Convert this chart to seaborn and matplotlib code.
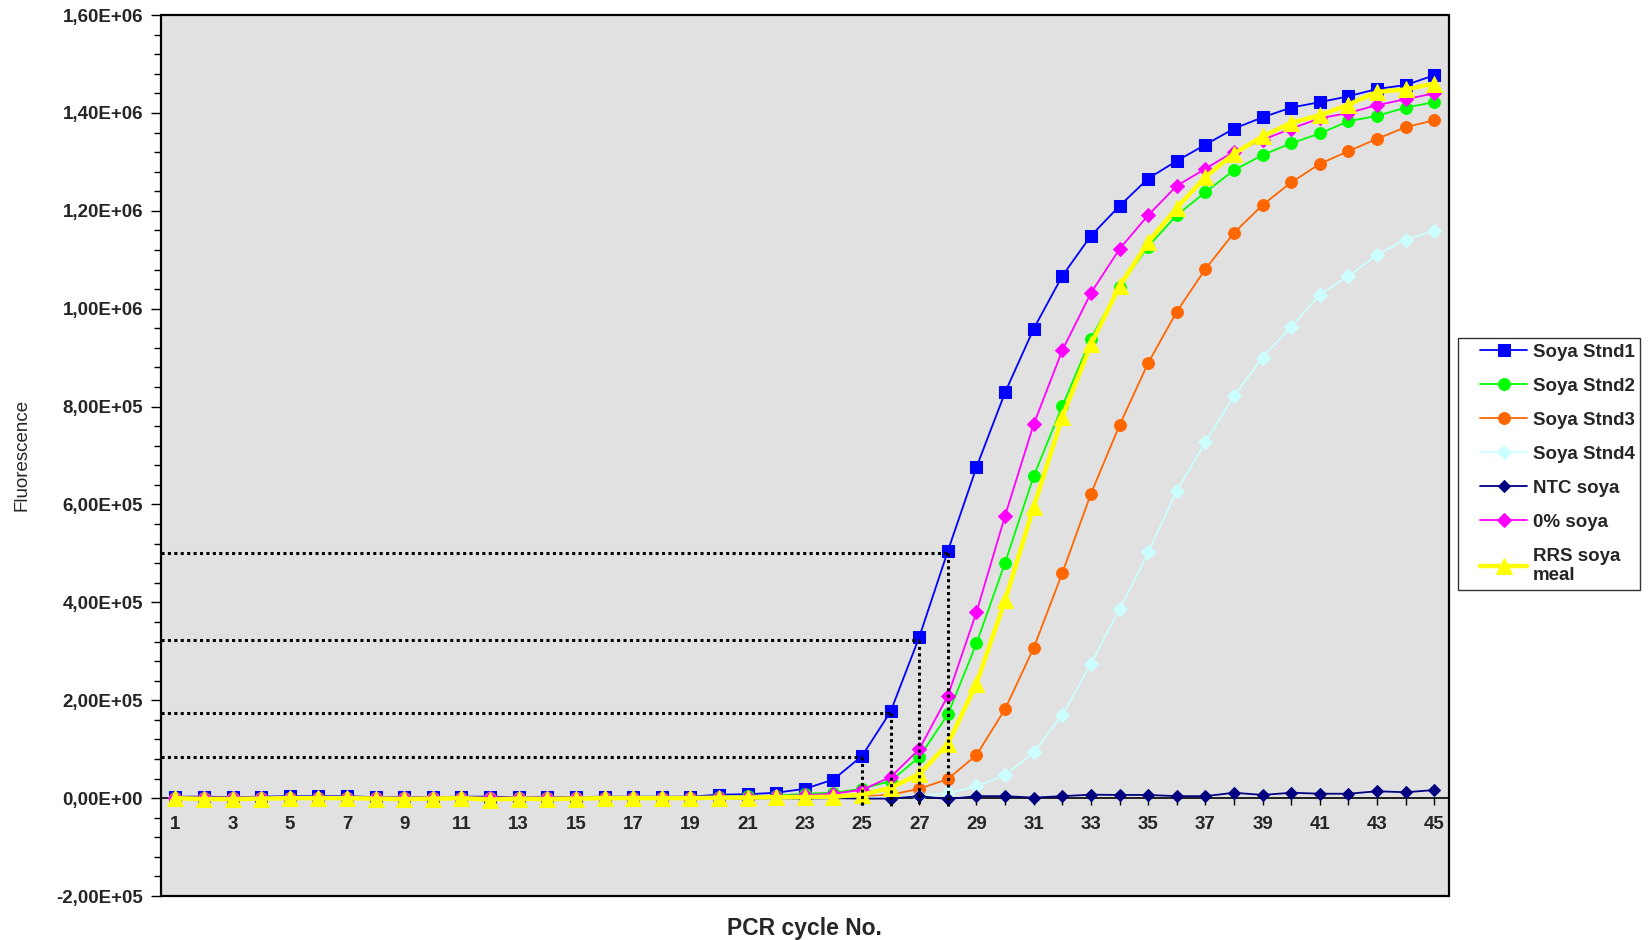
import matplotlib
matplotlib.use("Agg")
import matplotlib.pyplot as plt
import matplotlib.ticker as mticker
from matplotlib.patches import Rectangle
from matplotlib.legend_handler import HandlerLine2D
import seaborn as sns
import pandas as pd

cycles = list(range(1, 46))

soya_stnd1 = [3000, 3000, 2000, 3000, 4000, 4000, 4000, 2000, 2000, 2000, 3000, 3000, 2000, 2000, 2000,
              3000, 3000, 3000, 3000,
              7000, 8000, 11000, 19000, 38000, 86000, 177000, 329000, 505000, 676000, 829000, 959000,
              1067000, 1149000, 1210000, 1266000, 1302000, 1335000, 1368000, 1391000, 1411000, 1422000,
              1434000, 1449000, 1457000, 1477000]
soya_stnd2 = [1000, 1000, 1000, 1000, 1000, 1000, 1000, 1000, 1000, 1000, 1000, 1000, 1000, 1000, 1000,
              1000, 1000, 1000, 1000,
              3000, 4000, 5000, 9000, 11000, 19000, 35000, 84000, 171000, 316000, 481000, 658000,
              801000, 939000, 1045000, 1127000, 1191000, 1238000, 1283000, 1314000, 1338000, 1358000,
              1383000, 1394000, 1411000, 1422000]
soya_stnd3 = [1000, 1000, 1000, 1000, 1000, 1000, 1000, 1000, 1000, 1000, 1000, 1000, 1000, 1000, 1000,
              1000, 1000, 1000, 1000,
              1000, 1000, 1000, 1000, 2000, 3000, 7000, 19000, 39000, 88000, 182000, 307000,
              460000, 622000, 762000, 889000, 994000, 1081000, 1155000, 1212000, 1258000, 1296000,
              1322000, 1347000, 1371000, 1385000]
soya_stnd4 = [0, 0, 0, 0, 0, 0, 0, 0, 0, 0, 0, 0, 0, 0, 0, 0, 0, 0, 0,
              0, 0, 0, 0, 0, 1000, 2000, 4000, 10000, 24000, 47000, 94000,
              170000, 274000, 386000, 502000, 628000, 727000, 822000, 900000, 963000, 1029000,
              1067000, 1110000, 1141000, 1159000]
ntc_soya = [-1000, -1000, -1000, 0, -1000, -1000, 0, -1000, -1000, 0, -1000, -1000, 0, -1000, -1000,
            0, -1000, -1000, 0,
            0, -1000, 0, -1000, 0, -1000, -1000, 4000, -2000, 4000, 4000, 1000,
            4000, 7000, 6500, 6500, 4000, 4000, 11000, 6500, 11000, 9000,
            9000, 14000, 12000, 16500]
zero_soya = [1000, 1000, 1000, 1000, 1000, 1000, 1000, 1000, 1000, 1000, 1000, 1000, 1000, 1000, 1000,
             1000, 1000, 1000, 1000,
             2000, 3000, 4000, 6000, 9000, 17000, 43000, 100000, 209000, 380000, 577000, 764000,
             915000, 1032000, 1122000, 1191000, 1251000, 1286000, 1321000, 1345000, 1368000, 1389000,
             1400000, 1416000, 1428000, 1440000]
rrs_meal = [0, -2000, -2000, -1000, 0, 0, 0, -1000, -2000, -1000, 0, -3000, -1000, -2000, -1000,
            0, 0, 0, 0,
            1000, 1000, 2000, 2000, 3000, 7000, 21000, 49000, 111000, 234000, 404000, 595000,
            779000, 927000, 1046000, 1136000, 1206000, 1269000, 1317000, 1352000, 1380000, 1395000,
            1417000, 1443000, 1448000, 1460000]

series_names = ["Soya Stnd1", "Soya Stnd2", "Soya Stnd3", "Soya Stnd4", "NTC soya", "0% soya", "RRS soya\nmeal"]
series_values = [soya_stnd1, soya_stnd2, soya_stnd3, soya_stnd4, ntc_soya, zero_soya, rrs_meal]

threshold_cycles = [25, 26, 27, 28]
threshold_values = [84000, 174000, 324000, 500000]

colors = ["#0000FF", "#00FF00", "#FF6600", "#CCFFFF", "#000080", "#FF00FF", "#FFFF00"]
markers = ["s", "o", "o", "D", "D", "D", "^"]
msizes = [8, 8.5, 8.5, 7, 6, 7, 11.5]
lws = [1.3, 1.3, 1.3, 1.3, 1.3, 1.3, 3.2]

sns.set_theme(style="white")
plt.rcParams["font.family"] = ["Liberation Sans", "DejaVu Sans"]

fig = plt.figure(figsize=(16.48, 9.40), dpi=100)
ax = fig.add_axes([0.0977, 0.0468, 0.7813, 0.9372])
ax.set_facecolor("#E1E1E1")

for name, vals, c, m, ms, lw in zip(series_names, series_values, colors, markers, msizes, lws):
    df = pd.DataFrame({"cycle": cycles, "value": vals})
    sns.lineplot(data=df, x="cycle", y="value", ax=ax, color=c, marker=m, markersize=ms,
                 markeredgecolor=c, linewidth=lw, label=name, zorder=3)

for xc, yv in zip(threshold_cycles, threshold_values):
    ax.plot([0.5, xc], [yv, yv], color="black", lw=2.2, linestyle=(0, (1, 1.1)), zorder=4)
    ax.plot([xc, xc], [yv, -17000], color="black", lw=2.2, linestyle=(0, (1, 1.1)), zorder=4)

ax.set_xlim(0.5, 45.5)
ax.set_ylim(-200000, 1600000)

for s in ["top", "right", "left"]:
    ax.spines[s].set_visible(False)
ax.spines["bottom"].set_position(("data", 0))
ax.spines["bottom"].set_color("black")
ax.spines["bottom"].set_linewidth(1.2)
ax.add_patch(Rectangle((0, 0), 1, 1, transform=ax.transAxes, fill=False, edgecolor="black",
                       lw=1.6, clip_on=False, zorder=5))

ax.xaxis.set_major_locator(mticker.MultipleLocator(1))
ax.xaxis.set_major_formatter(mticker.FuncFormatter(lambda v, p: f"{int(round(v))}" if int(round(v)) % 2 == 1 else ""))
ax.tick_params(axis="x", direction="out", length=5, width=1, color="black", pad=8,
               labelsize=13.5, bottom=True)
for lbl in ax.get_xticklabels():
    lbl.set_fontweight("bold")

ax.yaxis.set_major_locator(mticker.MultipleLocator(200000))
ax.yaxis.set_minor_locator(mticker.MultipleLocator(40000))
ax.yaxis.set_major_formatter(mticker.FuncFormatter(lambda v, p: f"{v:.2E}".replace(".", ",")))
ax.tick_params(axis="y", which="major", direction="out", length=7, width=1, color="black",
               pad=6, labelsize=13.5, left=True)
ax.tick_params(axis="y", which="minor", direction="out", length=5, width=1, color="black", left=True)
for lbl in ax.get_yticklabels():
    lbl.set_fontweight("bold")

ax.set_xlabel("")
ax.set_ylabel("")
fig.text(0.488, 0.0125, "PCR cycle No.", ha="center", va="center", fontsize=16.5, fontweight="bold")
fig.text(0.0135, 0.516, "Fluorescence", ha="center", va="center", rotation=90, fontsize=13.5)

handles, labels = ax.get_legend_handles_labels()
ax.legend_.remove()
hmap = {h: HandlerLine2D(xpad=0.9) for h in handles}
leg = fig.legend(handles, labels, loc="upper left", bbox_to_anchor=(0.8847, 0.6404),
                 frameon=True, fancybox=False, edgecolor="black", facecolor="white",
                 prop={"weight": "bold", "size": 13.5}, handlelength=3.4, handletextpad=0.3,
                 labelspacing=0.9, borderpad=0.3, borderaxespad=0, handler_map=hmap)
leg.get_frame().set_linewidth(1.0)

fig.savefig("out.png", dpi=100)
